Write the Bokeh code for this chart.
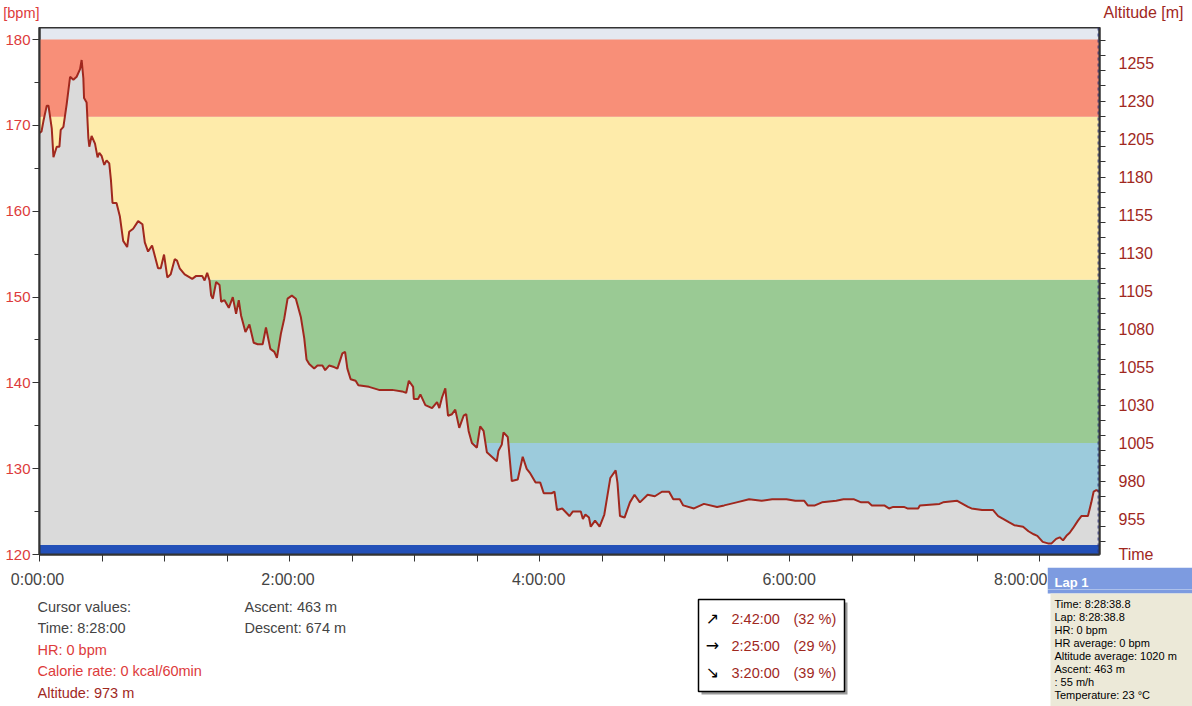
from bokeh.plotting import figure
from bokeh.models import Range1d, LinearAxis, FixedTicker, Label, BoxAnnotation, Span
from bokeh.layouts import column, row
from bokeh.embed import file_html
from bokeh.resources import INLINE

# ---------------- data ----------------
total_minutes = 508.65          # 8:28:38.8
cursor_minute = 508.0           # 8:28:00

time_min = [0, 0.96, 1.91, 3.49, 4.30, 5.88, 6.69, 8.27, 9.56, 10.18,
            11.47, 13.05, 14.68, 16.25, 17.83, 19.46, 20.22, 21.04, 21.37, 22.61,
            23.43, 23.90, 25.00, 26.63, 27.87, 28.69, 29.78, 31.08, 32.18, 33.47,
            34.28, 35.04, 36.96, 38.58, 40.16, 42.07, 43.03, 44.94, 47.33, 49.39,
            50.53, 52.11, 54.02, 54.98, 56.89, 58.18, 59.76, 61.34, 62.96, 64.88,
            65.98, 67.27, 69.66, 73.29, 75.20, 78.07, 79.22, 80.46, 81.61, 82.38,
            83.19, 84.77, 86.39, 87.16, 88.78, 90.84, 92.75, 94.33, 95.62, 96.72,
            98.82, 100.73, 102.79, 104.70, 107.09, 108.67, 110.77, 112.69, 113.93, 115.84,
            117.46, 119.04, 121.10, 123.01, 125.40, 127.03, 128.13, 129.42, 131.81, 133.39,
            135.78, 137.07, 138.98, 141.37, 142.95, 145.34, 146.63, 147.73, 149.31, 151.70,
            152.99, 158.11, 162.89, 169.24, 174.02, 175.94, 177.23, 179.28, 179.62, 181.67,
            182.77, 185.16, 188.37, 190.76, 191.86, 193.15, 194.73, 196.02, 197.93, 199.51,
            201.42, 203.52, 204.77, 205.91, 207.49, 209.88, 211.46, 213.09, 214.67, 217.05,
            219.44, 220.26, 221.83, 222.65, 224.70, 226.62, 229.48, 231.87, 233.79, 235.51,
            238.04, 240.29, 241.96, 245.74, 247.12, 248.32, 250.85, 254.29, 255.97, 259.75,
            260.75, 261.95, 263.67, 264.53, 266.59, 268.78, 271.03, 273.90, 276.48, 277.34,
            278.54, 280.74, 283.32, 285.52, 288.10, 291.83, 295.27, 298.67, 302.11, 304.12,
            307.22, 308.90, 314.06, 318.84, 325.15, 328.55, 334.52, 340.50, 346.47, 351.59,
            358.42, 362.68, 366.98, 368.66, 372.10, 375.49, 382.33, 385.77, 390.89, 394.28,
            397.73, 399.40, 402.84, 405.38, 407.62, 409.68, 414.79, 416.47, 421.63, 422.45,
            431.86, 433.59, 440.38, 442.96, 445.54, 447.22, 452.33, 457.49, 460.03, 462.61,
            465.14, 467.72, 471.98, 474.56, 477.09, 478.81, 481.40, 483.93, 485.65, 487.85,
            489.57, 491.15, 492.77, 494.35, 495.93, 498.32, 499.95, 503.10, 504.73, 505.83,
            507.12, 508.65]

altitude_m = [1209, 1210, 1217, 1227, 1227, 1212, 1193, 1200, 1200, 1211,
              1213, 1228, 1246, 1244, 1246, 1251, 1257, 1245, 1232, 1229,
              1206, 1200, 1207, 1202, 1193, 1196, 1194, 1188, 1191, 1189,
              1178, 1163, 1163, 1154, 1138, 1134, 1144, 1146, 1151, 1149,
              1137, 1131, 1135, 1130, 1120, 1120, 1129, 1114, 1116, 1126,
              1125, 1120, 1116, 1113, 1115, 1115, 1112, 1117, 1112, 1102,
              1100, 1111, 1109, 1098, 1099, 1094, 1101, 1090, 1099, 1089,
              1078, 1083, 1071, 1070, 1070, 1081, 1067, 1065, 1061, 1077,
              1087, 1100, 1102, 1100, 1088, 1074, 1060, 1057, 1054, 1056,
              1056, 1053, 1056, 1055, 1054, 1064, 1065, 1054, 1047, 1046,
              1043, 1042, 1040, 1040, 1039, 1038, 1046, 1042, 1034, 1034,
              1037, 1030, 1028, 1032, 1028, 1035, 1041, 1023, 1024, 1027,
              1015, 1023, 1024, 1013, 1005, 1002, 1016, 1013, 999, 996,
              993, 1000, 1004, 1012, 1009, 980, 981, 996, 988, 985,
              979, 979, 972, 972, 973, 961, 962, 957, 960, 960,
              955, 958, 956, 950, 954, 950, 958, 982, 987, 979,
              957, 956, 966, 971, 966, 971, 970, 973, 973, 968,
              968, 964, 962, 965, 963, 964, 966, 968, 967, 968,
              968, 967, 967, 964, 964, 966, 967, 968, 968, 966,
              966, 964, 964, 964, 962, 963, 963, 962, 962, 964,
              965, 966, 967, 965, 963, 962, 961, 961, 957, 955,
              953, 951, 950, 947, 945, 944, 940, 939, 939, 942,
              943, 941, 944, 946, 949, 954, 957, 957, 966, 973,
              974, 973]

# heart-rate zones (bpm)
zone_low = [114, 133, 152, 171]
zone_high = [133, 152, 171, 180]
zone_colors = ["#9ccbdc", "#9aca94", "#feebaa", "#f88f78"]
hr_band = [120, 121.1]          # HR trace lying on the floor of the chart

hr_ticks = [120, 130, 140, 150, 160, 170, 180]
hr_minor = [125, 135, 145, 155, 165, 175]
alt_label_ticks = [955, 980, 1005, 1030, 1055, 1080, 1105, 1130, 1155, 1180, 1205, 1230, 1255]
alt_minor = list(range(940, 1280, 10))
time_ticks = [0, 120, 240, 360, 480]
time_tick_labels = ["0:00:00", "2:00:00", "4:00:00", "6:00:00", "8:00:00"]
time_minor = list(range(0, 510, 30))

hr_axis_title = "[bpm]"
alt_axis_title = "Altitude [m]"
time_axis_title = "Time"
cursor_lines = ["Cursor values:", "Time: 8:28:00", "HR: 0 bpm",
                "Calorie rate: 0 kcal/60min", "Altitude: 973 m"]
summary_lines = ["Ascent: 463 m", "Descent: 674 m"]
slope_arrows = ["\u2197", "\u2192", "\u2198"]
slope_times = ["2:42:00", "2:25:00", "3:20:00"]
slope_pcts = ["(32 %)", "(29 %)", "(39 %)"]
lap_title = "Lap 1"
lap_lines = ["Time: 8:28:38.8", "Lap: 8:28:38.8", "HR: 0 bpm", "HR average:  0 bpm",
             "Altitude average:  1020 m", "Ascent:  463 m", ": 55 m/h", "Temperature: 23 \u00b0C"]

# ---------------- colours / fonts ----------------
FONT = "Liberation Sans"
HR_COL = "#dd3b3b"
ALT_COL = "#a0281e"
GREY_TXT = "#444444"
FRAME = "#333333"
LAP_BLUE = "#7d9be0"

PLOT_W = 1062                       # frame width in px (x 37..1099)
PPM = PLOT_W / total_minutes        # pixels per minute


def base(width, height, x_range=None, y_range=None, x_loc=None, y_loc=None, left=0):
    f = figure(width=width, height=height, output_backend="svg", toolbar_location=None, tools="",
               x_range=x_range or Range1d(0, 1), y_range=y_range or Range1d(0, 1),
               x_axis_location=x_loc, y_axis_location=y_loc,
               min_border_left=left, min_border_right=0, min_border_top=0, min_border_bottom=0)
    f.outline_line_color = None
    f.background_fill_color = "white"
    f.border_fill_color = "white"
    f.xgrid.visible = False
    f.ygrid.visible = False
    return f


def label_only_axis(ax, ticks, texts, color, size, style="normal", standoff=0):
    ax.ticker = FixedTicker(ticks=ticks, minor_ticks=[])
    ax.major_label_overrides = {t: s for t, s in zip(ticks, texts)}
    ax.major_tick_out = 0
    ax.major_tick_in = 0
    ax.minor_tick_out = 0
    ax.minor_tick_in = 0
    ax.axis_line_color = None
    ax.major_label_standoff = standoff
    ax.major_label_text_font = FONT
    ax.major_label_text_font_size = size
    ax.major_label_text_font_style = style
    ax.major_label_text_color = color


def lab(fig, text, x, y, color, size="14.5px", font=FONT, style="normal", align="left"):
    fig.add_layout(Label(x=x, y=y, x_units="screen", y_units="screen", text=text,
                         text_color=color, text_font=font, text_font_size=size,
                         text_font_style=style, text_align=align, text_baseline="middle"))


def box(fig, l, r, t, b, fill, line=None, lw=1):
    fig.add_layout(BoxAnnotation(left=l, right=r, top=t, bottom=b, left_units="screen",
                                 right_units="screen", top_units="screen", bottom_units="screen",
                                 fill_color=fill, fill_alpha=1, line_color=line, line_width=lw,
                                 line_alpha=1 if line else 0))


# ---------- header strip (global y 0..27): axis titles ----------
H = base(1192, 27, y_range=Range1d(0, 27), y_loc="left")
label_only_axis(H.yaxis[0], [15], [hr_axis_title], HR_COL, "14.5px")
hr_title_axis = LinearAxis()
label_only_axis(hr_title_axis, [15], [alt_axis_title], ALT_COL, "16px", standoff=4)
H.add_layout(hr_title_axis, "right")

# ---------- main chart (global y 27..567) ----------
p = figure(width=1192, height=540, output_backend="svg", toolbar_location=None, tools="",
           x_range=Range1d(0, total_minutes), y_range=Range1d(120, 181.4),
           min_border_left=37, min_border_right=93, min_border_top=0, min_border_bottom=13)
p.extra_y_ranges = {"alt": Range1d(931.7, 1278.4)}
p.xgrid.visible = False
p.ygrid.visible = False
p.background_fill_color = "#e4e8f0"
p.border_fill_color = "white"
p.outline_line_color = FRAME
p.outline_line_width = 2

p.quad(left=0, right=total_minutes, bottom=zone_low, top=zone_high,
       fill_color=zone_colors, line_color=None)
p.varea(x=time_min, y1=900, y2=altitude_m, fill_color="#dadada", y_range_name="alt")
p.quad(left=0, right=total_minutes, bottom=hr_band[0], top=hr_band[1],
       fill_color="#2350b8", line_color=None)
p.line(x=time_min, y=altitude_m, line_color=ALT_COL, line_width=2, y_range_name="alt")
p.add_layout(Span(location=cursor_minute, dimension="height", line_color="#2a3070",
                  line_dash="3 3", line_width=1))

# bottom axis: tick marks only (labels are drawn by the panel below)
xa = p.xaxis[0]
xa.ticker = FixedTicker(ticks=[], minor_ticks=time_minor)
xa.minor_tick_out = 7
xa.minor_tick_in = 0
xa.major_tick_out = 0
xa.major_tick_in = 0
xa.major_label_standoff = 0
xa.axis_line_color = FRAME
xa.axis_line_width = 2
xa.minor_tick_line_color = FRAME

ya = p.yaxis[0]
ya.ticker = FixedTicker(ticks=hr_ticks, minor_ticks=hr_minor)
ya.major_tick_out = 7
ya.major_tick_in = 0
ya.minor_tick_out = 5
ya.minor_tick_in = 0
ya.major_label_standoff = 2
ya.axis_line_color = FRAME
ya.axis_line_width = 2
ya.major_tick_line_color = FRAME
ya.minor_tick_line_color = FRAME
ya.major_label_text_font = FONT
ya.major_label_text_font_size = "15px"
ya.major_label_text_color = HR_COL

ra = LinearAxis(y_range_name="alt",
                ticker=FixedTicker(ticks=alt_label_ticks + [932], minor_ticks=alt_minor))
ra.major_label_overrides = {932: time_axis_title}
ra.major_tick_out = 0
ra.major_tick_in = 0
ra.minor_tick_out = 6
ra.minor_tick_in = 0
ra.major_label_standoff = 13
ra.axis_line_color = FRAME
ra.axis_line_width = 2
ra.minor_tick_line_color = FRAME
ra.major_label_text_font = FONT
ra.major_label_text_font_size = "16px"
ra.major_label_text_color = ALT_COL
p.add_layout(ra, "right")

# ---------- bottom-left panel (global x 0..1047, y 567..706) ----------
B = base(1047, 139, x_range=Range1d(0, (1047 - 37) / PPM), x_loc="above", left=37)
label_only_axis(B.xaxis[0], time_ticks, time_tick_labels, GREY_TXT, "16px", standoff=2)

# positions: x relative to global 37, y up from global 706
cur_cols = [GREY_TXT, GREY_TXT, HR_COL, HR_COL, ALT_COL]
for i, (t, c) in enumerate(zip(cursor_lines, cur_cols)):
    lab(B, t, 0, 706 - (606 + i * 21.5), c)
for i, t in enumerate(summary_lines):
    lab(B, t, 244 - 37, 706 - (606 + i * 21.5), GREY_TXT)

box(B, 701 - 37, 847 - 37, 706 - 602, 706 - 694, "#9a9a9a")
box(B, 698 - 37, 844 - 37, 706 - 599, 706 - 691, "white", line="black", lw=1.5)
for i in range(3):
    Y = 618 + i * 27
    lab(B, slope_arrows[i], 712 - 37, 706 - Y, "black", size="16px", font="DejaVu Sans", align="center")
    lab(B, slope_times[i], 731 - 37, 706 - Y, ALT_COL)
    lab(B, slope_pcts[i], 793 - 37, 706 - Y, ALT_COL)

# ---------- Lap panel (global x 1047..1192, y 567..706) ----------
C = base(145, 139, x_range=Range1d(0, 145), x_loc="above")
C.border_fill_color = LAP_BLUE
label_only_axis(C.xaxis[0], [24], [lap_title], "white", "13px", style="bold", standoff=0)
box(C, 0, 145, 139, 706 - 593, LAP_BLUE)
box(C, 3, 145, 706 - 593, 0, "#ece9d8")
for i, t in enumerate(lap_lines):
    lab(C, t, 7, 706 - (603.3 + i * 13), "black", size="11px")

layout = column(H, p, row(B, C, spacing=0), spacing=0)
open("out.html", "w").write(file_html(layout, INLINE))
